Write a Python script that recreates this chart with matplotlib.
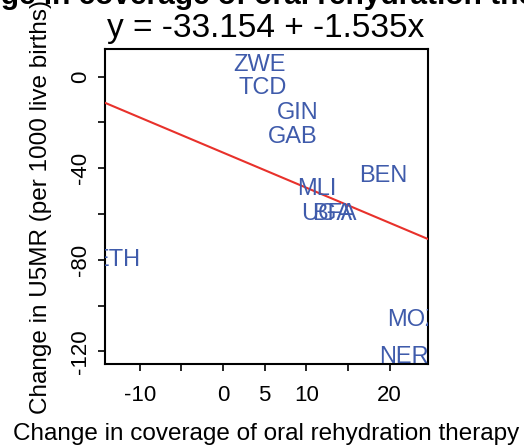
import matplotlib
matplotlib.use("Agg")
import matplotlib.pyplot as plt
import numpy as np

plt.rcParams['font.family'] = ['Liberation Sans', 'DejaVu Sans']

# Data (label positions)
countries = ["ZWE", "TCD", "GIN", "GAB", "BEN", "MLI", "UGA", "BFA", "ETH", "MOZ", "NER"]
x_orT = [4.4, 4.8, 9.0, 8.4, 19.2, 11.2, 12.4, 13.4, -12.8, 22.8, 21.7]
y_u5mr = [5.1, -5.1, -15.7, -26.2, -43.2, -49.0, -60.0, -60.0, -80.0, -106.3, -122.3]
intercept = -33.154
slope = -1.535

x_ticks = [-10, -5, 0, 5, 10, 15, 20]
x_ticklabels = ["-10", "", "0", "5", "10", "", "20"]
y_ticks = [-120, -80, -40, 0]
y_minor = [-100, -60, -20]

label_color = "#3f5bab"
line_color = "#e8312b"

fig = plt.figure(figsize=(5.24, 4.48), dpi=100)
ax = fig.add_axes([105/524, 1 - 364/448, (428-105)/524, (364-49)/448])

xlim = (-14.17, 24.6)
ylim = (-125.5, 12.1)
ax.set_xlim(*xlim)
ax.set_ylim(*ylim)

xs = np.array(xlim)
ax.plot(xs, intercept + slope * xs, color=line_color, lw=1.5, zorder=3)

for lab, xv, yv in zip(countries, x_orT, y_u5mr):
    ax.text(xv, yv, lab, ha='center', va='center', color=label_color,
            fontsize=17, clip_on=True, zorder=4)

ax.set_xticks(x_ticks)
ax.set_xticklabels(x_ticklabels)
ax.set_yticks(y_ticks)
ax.set_yticks(y_minor, minor=True)
ax.set_yticklabels([str(v) for v in y_ticks], rotation=90, va='center')
ax.tick_params(axis='both', which='both', direction='out', length=5, width=1.2,
               labelsize=16, color='black')
ax.tick_params(axis='x', pad=10)
ax.tick_params(axis='y', pad=5)
for s in ax.spines.values():
    s.set_linewidth(1.5)

ax.set_xlabel("Change in coverage of oral rehydration therapy", fontsize=17.5, labelpad=12)
ax.set_ylabel("Change in U5MR (per 1000 live births)", fontsize=17.5, labelpad=13)

fig.text(266/524, 1 - 37/448, "y = -33.154 + -1.535x", ha='center', va='baseline', fontsize=24)
fig.text(0.5, 1 - 4/448, "Change in coverage of oral rehydration therapy", ha='center',
         va='baseline', fontsize=21.5, fontweight='bold')

fig.savefig("out.png", dpi=100)
